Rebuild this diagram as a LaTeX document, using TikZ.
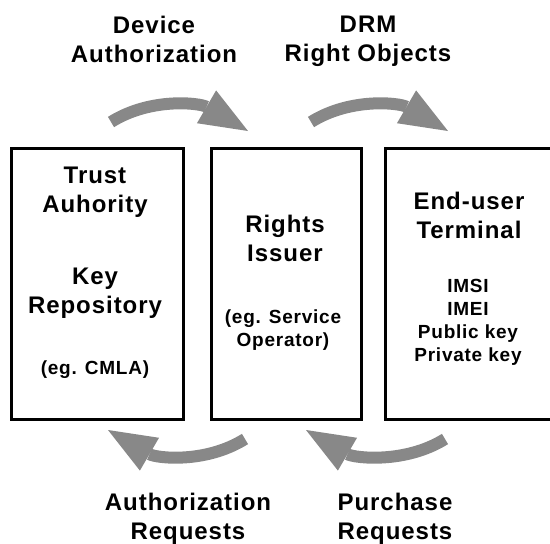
\documentclass[tikz,border=0pt]{standalone}
\usepackage{fontspec}
\setmainfont{Liberation Sans}[LetterSpace=4]
\usepackage{xcolor}
\usetikzlibrary{arrows.meta}
\definecolor{agray}{HTML}{888888}
\tikzset{
	box/.style={draw=black, line width=3pt, inner sep=0pt},
	bigtxt/.style={font=\bfseries\fontsize{24}{29}\selectfont, align=center, inner sep=0pt},
	smalltxt/.style={font=\bfseries\fontsize{19}{23}\selectfont, align=center, inner sep=0pt},
	flow/.style={draw=agray, line width=12pt, -{Triangle[length=48pt,width=38pt,line width=0pt]}}
}

\begin{document}
\begin{tikzpicture}[x=1pt,y=-1pt]
	\useasboundingbox (0,0) rectangle (550,544);
	\clip (0,0) rectangle (550,544);
	% the three parties
	\node[box, minimum width=172pt, minimum height=271pt] (trust) at (97,283.6) {};
	\node[box, minimum width=150pt, minimum height=271pt] (issuer) at (286.7,283.6) {};
	\node[box, minimum width=174pt, minimum height=271pt] (term) at (472.9,283.6) {};
	\node[bigtxt] (trustname) at (95,192.5) {Trust\\Auhority};
	\node[bigtxt] (keyrep) at (95,293.5) {Key\\Repository};
	\node[smalltxt] (cmla) at (95,370) {(eg. CMLA)};
	\node[bigtxt] (riname) at (285,238) {Rights\\Issuer};
	\node[smalltxt] (operator) at (283,330) {(eg. Service\\Operator)};
	\node[bigtxt] (termname) at (469,215) {End-user\\Terminal};
	\node[smalltxt] (keys) at (468,322) {IMSI\\IMEI\\Public key\\Private key};
	% curved flows
	\coordinate (devS) at (111,122);
	\coordinate (devE) at (248,131);
	\coordinate (roS) at (311,122);
	\coordinate (roE) at (448,131);
	\coordinate (areqS) at (245,439);
	\coordinate (areqE) at (108,430);
	\coordinate (preqS) at (445,439);
	\coordinate (preqE) at (306,430);
	\draw[flow] (devS) .. controls +(40,-25) and +(-48,-28) .. (devE);
	\draw[flow] (roS) .. controls +(40,-25) and +(-48,-28) .. (roE);
	\draw[flow] (areqS) .. controls +(-40,25) and +(48,28) .. (areqE);
	\draw[flow] (preqS) .. controls +(-40,25) and +(48,28) .. (preqE);
	\node[bigtxt] (devlbl) at (154,39) {Device\\Authorization};
	\node[bigtxt] (rolbl) at (368,41.5) {DRM\\Right Objects};
	\node[bigtxt] (areqlbl) at (188,518.5) {Authorization\\Requests};
	\node[bigtxt] (preqlbl) at (395,518.5) {Purchase\\Requests};
\end{tikzpicture}
\end{document}
